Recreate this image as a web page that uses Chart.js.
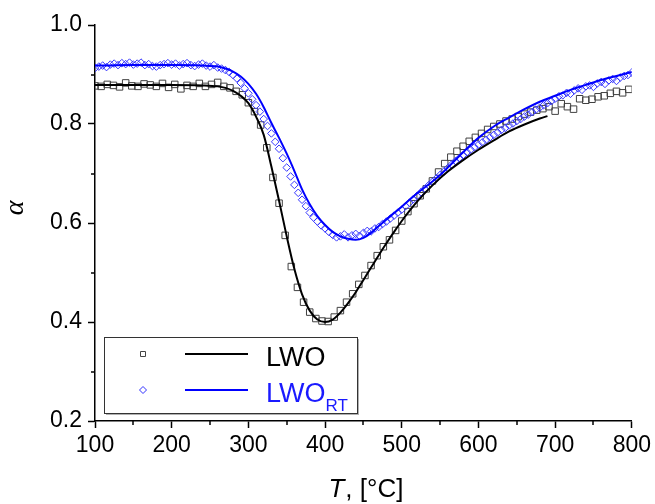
<!DOCTYPE html>
<html>
<head>
<meta charset="utf-8">
<script src="https://cdn.jsdelivr.net/npm/chart.js@4.4.0/dist/chart.umd.min.js"></script>
<style>
  html, body { margin: 0; padding: 0; background: #fff; }
  canvas { display: block; }
</style>
</head>
<body>
<canvas id="chart" width="655" height="504"></canvas>
<script>
// LWO measured points (black squares)
const lwoT = [100,108,116,124,132,140,148,156,164,172,180,188,196,204,212,220,228,236,244,252,
  260,268,276,284,292,300,308,316,324,332,340,348,356,364,372,380,388,396,404,412,
  420,428,436,444,452,460,468,476,484,492,500,508,516,524,532,540,548,556,564,572,
  580,588,596,604,612,620,628,636,644,652,660,668,676,684,692,700,708,716,724,732,
  740,748,756,764,772,780,788,796];
const lwoAlpha = [0.877,0.876,0.880,0.878,0.875,0.883,0.877,0.876,0.881,0.879,0.876,0.882,0.874,0.880,0.871,0.878,0.876,0.882,0.876,0.880,
  0.884,0.876,0.873,0.866,0.859,0.843,0.825,0.798,0.752,0.692,0.640,0.575,0.512,0.470,0.440,0.420,0.407,0.402,0.401,0.410,
  0.423,0.440,0.457,0.476,0.494,0.514,0.534,0.552,0.566,0.585,0.604,0.623,0.639,0.655,0.669,0.685,0.703,0.720,0.733,0.745,
  0.755,0.765,0.773,0.781,0.789,0.795,0.800,0.806,0.810,0.815,0.820,0.824,0.828,0.831,0.835,0.826,0.841,0.835,0.830,0.851,
  0.848,0.850,0.855,0.857,0.862,0.866,0.863,0.870];

// LWO fit curve
const lwoFitT = [100,150,200,240,260,270,280,290,300,310,320,330,340,350,360,370,380,390,400,410,
  420,430,440,450,460,470,480,490,500,520,540,560,580,600,620,640,660,680,690];
const lwoFitAlpha = [0.879,0.879,0.879,0.878,0.876,0.873,0.867,0.857,0.842,0.815,0.778,0.714,0.645,0.573,0.507,0.456,0.423,0.405,0.400,0.405,
  0.419,0.438,0.460,0.485,0.510,0.535,0.559,0.582,0.604,0.643,0.676,0.704,0.727,0.748,0.767,0.785,0.799,0.811,0.816];

// LWO_RT measured points (blue diamonds)
const rtT = [100,105,110,115,120,125,130,135,140,145,150,155,160,165,170,175,180,185,190,195,
  200,205,210,215,220,225,230,235,240,245,250,255,260,265,270,275,280,285,290,295,
  300,305,310,315,320,325,330,335,340,345,350,355,360,365,370,375,380,385,390,395,
  400,405,410,415,420,425,430,435,440,445,450,455,460,465,470,475,480,485,490,495,
  500,505,510,515,520,525,530,535,540,545,550,555,560,565,570,575,580,585,590,595,
  600,605,610,615,620,625,630,635,640,645,650,655,660,665,670,675,680,685,690,695,
  700,705,710,715,720,725,730,735,740,745,750,755,760,765,770,775,780,785,790,795,800];
const rtAlpha = [0.913,0.916,0.918,0.915,0.920,0.922,0.919,0.923,0.921,0.924,0.920,0.922,0.924,0.919,0.921,0.917,0.916,0.919,0.921,0.923,
  0.920,0.922,0.918,0.921,0.923,0.919,0.917,0.920,0.922,0.918,0.916,0.919,0.914,0.912,0.909,0.905,0.899,0.892,0.883,0.872,
  0.862,0.850,0.838,0.825,0.810,0.796,0.781,0.764,0.750,0.731,0.712,0.694,0.677,0.661,0.647,0.634,0.621,0.611,0.603,0.595,
  0.589,0.582,0.576,0.571,0.573,0.577,0.571,0.575,0.578,0.574,0.580,0.584,0.583,0.589,0.592,0.598,0.603,0.609,0.615,0.621,
  0.627,0.634,0.641,0.648,0.655,0.662,0.669,0.676,0.683,0.690,0.697,0.704,0.711,0.718,0.725,0.731,0.737,0.743,0.748,0.753,
  0.758,0.763,0.768,0.773,0.778,0.783,0.788,0.792,0.797,0.801,0.806,0.810,0.815,0.819,0.824,0.829,0.833,0.838,0.842,0.846,
  0.851,0.856,0.858,0.863,0.861,0.868,0.872,0.869,0.876,0.878,0.875,0.882,0.885,0.881,0.888,0.891,0.887,0.894,0.897,0.899,0.904];

// LWO_RT fit curve
const rtFitT = [100,150,200,240,260,270,280,290,300,310,320,330,340,350,360,370,380,390,400,410,
  420,430,440,450,460,470,480,490,500,520,540,550,560,580,600,620,640,660,680,700,720,740,760,780,800];
const rtFitAlpha = [0.918,0.919,0.919,0.918,0.916,0.912,0.906,0.896,0.881,0.861,0.834,0.802,0.772,0.740,0.705,0.668,0.638,0.614,0.596,0.582,
  0.573,0.568,0.566,0.570,0.580,0.594,0.607,0.620,0.633,0.660,0.684,0.697,0.712,0.743,0.772,0.795,0.813,0.830,0.845,0.857,0.869,0.879,0.889,0.897,0.905];

const seriesNames = ["LWO", "LWO"];
const seriesSub = ["", "RT"];

const toPoints = (xs, ys) => xs.map((x, i) => ({ x: x, y: ys[i] }));

// Minor ticks, axis titles and the boxed legend
const decorPlugin = {
  id: "decor",
  afterDraw(chart) {
    const ctx = chart.ctx;
    const xs = chart.scales.x;
    const ys = chart.scales.y;
    const area = chart.chartArea;
    ctx.save();
    ctx.strokeStyle = "#000";
    ctx.lineWidth = 1.5;
    xs.ticks.forEach((t) => {
      if (t.value % 100 !== 0) {
        const px = Math.round(xs.getPixelForValue(t.value));
        ctx.beginPath();
        ctx.moveTo(px, area.bottom);
        ctx.lineTo(px, area.bottom + 4);
        ctx.stroke();
      }
    });
    ys.ticks.forEach((t) => {
      if (Math.round(t.value * 10) % 2 !== 0) {
        const py = Math.round(ys.getPixelForValue(t.value));
        ctx.beginPath();
        ctx.moveTo(area.left - 4, py);
        ctx.lineTo(area.left, py);
        ctx.stroke();
      }
    });

    // x title: italic T
    ctx.fillStyle = "#000";
    ctx.textBaseline = "alphabetic";
    ctx.textAlign = "left";
    const fItal = "italic 26px 'Liberation Sans', Arial, sans-serif";
    const fReg = "26px 'Liberation Sans', Arial, sans-serif";
    ctx.font = fItal;
    const wT = ctx.measureText("T").width;
    ctx.font = fReg;
    const wRest = ctx.measureText(", [°C]").width;
    const cx = (area.left + area.right) / 2 + 2;
    let sx = cx - (wT + wRest) / 2;
    ctx.font = fItal;
    ctx.fillText("T", sx, 497);
    ctx.font = fReg;
    ctx.fillText(", [°C]", sx + wT + 1, 497);

    // y title
    ctx.save();
    ctx.translate(16, 208);
    ctx.rotate(-Math.PI / 2);
    ctx.textAlign = "center";
    ctx.textBaseline = "middle";
    ctx.font = "italic 28px 'Liberation Serif', 'Times New Roman', serif";
    ctx.fillText("α", 0, 0);
    ctx.restore();

    // legend box
    const bx = 104, by = 337, bw = 253, bh = 76;
    ctx.fillStyle = "#fff";
    ctx.fillRect(bx, by, bw, bh);
    ctx.fillStyle = "#b0b0b0";
    ctx.fillRect(bx + 2, by + bh, bw, 2);
    ctx.fillRect(bx + bw, by + 2, 2, bh);
    ctx.strokeStyle = "#333";
    ctx.lineWidth = 1;
    ctx.strokeRect(bx + 0.5, by + 0.5, bw, bh);

    const rows = [
      { y: 354, color: "#000", mark: "#444", shape: "rect", text: "#000" },
      { y: 390, color: "#0000ff", mark: "#3030ff", shape: "diamond", text: "#1a1aff" },
    ];
    rows.forEach((r, i) => {
      ctx.strokeStyle = r.mark;
      ctx.lineWidth = 1;
      ctx.beginPath();
      if (r.shape === "rect") {
        ctx.rect(140.5, r.y - 2.5, 5, 5);
      } else {
        ctx.moveTo(143, r.y - 3.5);
        ctx.lineTo(146.5, r.y);
        ctx.lineTo(143, r.y + 3.5);
        ctx.lineTo(139.5, r.y);
        ctx.closePath();
      }
      ctx.stroke();
      ctx.strokeStyle = r.color;
      ctx.lineWidth = 2;
      ctx.beginPath();
      ctx.moveTo(185, r.y);
      ctx.lineTo(248, r.y);
      ctx.stroke();
      ctx.fillStyle = r.text;
      ctx.textAlign = "left";
      ctx.textBaseline = "alphabetic";
      ctx.font = "27px 'Liberation Sans', Arial, sans-serif";
      ctx.fillText(seriesNames[i], 266, r.y + 12);
      if (seriesSub[i]) {
        const w = ctx.measureText(seriesNames[i]).width;
        ctx.font = "17px 'Liberation Sans', Arial, sans-serif";
        ctx.fillText(seriesSub[i], 266 + w, r.y + 21);
      }
    });
    ctx.restore();
  },
};

const tickFont = { family: "'Liberation Sans', Arial, sans-serif", size: 23 };

new Chart(document.getElementById("chart"), {
  type: "scatter",
  data: {
    datasets: [
      {
        label: "LWO fit",
        data: toPoints(lwoFitT, lwoFitAlpha),
        showLine: true,
        borderColor: "#000",
        borderWidth: 2,
        pointRadius: 0,
        cubicInterpolationMode: "monotone",
        order: 0,
      },
      {
        label: "LWO_RT fit",
        data: toPoints(rtFitT, rtFitAlpha),
        showLine: true,
        borderColor: "#0000ff",
        borderWidth: 2,
        pointRadius: 0,
        cubicInterpolationMode: "monotone",
        order: 1,
      },
      {
        label: "LWO_RT",
        data: toPoints(rtT, rtAlpha),
        pointStyle: "rectRot",
        pointRadius: 3.8,
        borderColor: "#3535ff",
        backgroundColor: "rgba(0,0,0,0)",
        borderWidth: 1,
        order: 2,
      },
      {
        label: "LWO",
        data: toPoints(lwoT, lwoAlpha),
        pointStyle: "rect",
        pointRadius: 4.6,
        borderColor: "#404040",
        backgroundColor: "rgba(0,0,0,0)",
        borderWidth: 1,
        order: 3,
      },
    ],
  },
  options: {
    responsive: false,
    animation: false,
    devicePixelRatio: 1,
    layout: { padding: { top: 25, right: 22, left: 0, bottom: 0 } },
    plugins: { legend: { display: false }, tooltip: { enabled: false } },
    scales: {
      x: {
        type: "linear",
        min: 100,
        max: 800,
        afterFit: (s) => { s.height = 83; },
        border: { display: true, color: "#000", width: 1.5 },
        grid: {
          drawOnChartArea: false,
          drawTicks: true,
          tickLength: 7,
          tickWidth: 1.5,
          tickColor: (c) => (c.tick && c.tick.value % 100 === 0 ? "#000" : "rgba(0,0,0,0)"),
        },
        ticks: {
          stepSize: 50,
          padding: 4,
          color: "#000",
          font: tickFont,
          maxRotation: 0,
          autoSkip: false,
          callback: (v) => (v % 100 === 0 ? String(v) : ""),
        },
      },
      y: {
        type: "linear",
        min: 0.2,
        max: 1.0,
        afterFit: (s) => { s.width = 95; },
        border: { display: true, color: "#000", width: 1.5 },
        grid: {
          drawOnChartArea: false,
          drawTicks: true,
          tickLength: 7,
          tickWidth: 1.5,
          tickColor: (c) => (c.tick && Math.round(c.tick.value * 10) % 2 === 0 ? "#000" : "rgba(0,0,0,0)"),
        },
        ticks: {
          stepSize: 0.1,
          padding: 6,
          color: "#000",
          font: tickFont,
          autoSkip: false,
          callback: (v) => (Math.round(v * 10) % 2 === 0 ? v.toFixed(1) : ""),
        },
      },
    },
  },
  plugins: [decorPlugin],
});
</script>
</body>
</html>
